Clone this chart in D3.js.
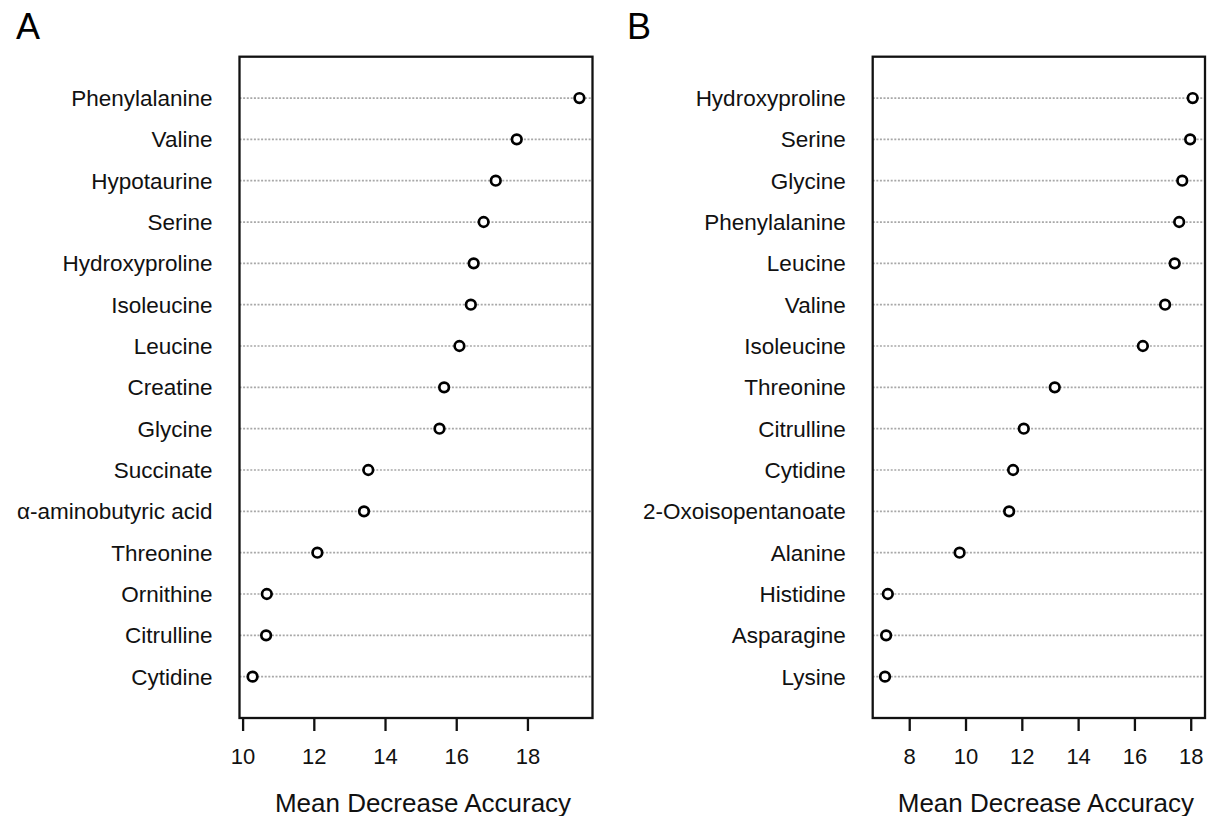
<!DOCTYPE html>
<html>
<head>
<meta charset="utf-8">
<script src="https://cdn.jsdelivr.net/npm/d3@7"></script>
<style>
  body { margin: 0; background: #fff; }
  svg { font-family: "Liberation Sans", Arial, sans-serif; }
</style>
</head>
<body>
<svg width="1207" height="816"></svg>
<script>
// Panel A data (top to bottom)
var namesA = ["Phenylalanine", "Valine", "Hypotaurine", "Serine", "Hydroxyproline",
  "Isoleucine", "Leucine", "Creatine", "Glycine", "Succinate",
  "α-aminobutyric acid", "Threonine", "Ornithine", "Citrulline", "Cytidine"];
var valuesA = [19.46, 17.70, 17.11, 16.77, 16.49, 16.41, 16.09, 15.66, 15.53, 13.53,
  13.41, 12.10, 10.68, 10.66, 10.28];
var ticksA = [10, 12, 14, 16, 18];

// Panel B data (top to bottom)
var namesB = ["Hydroxyproline", "Serine", "Glycine", "Phenylalanine", "Leucine",
  "Valine", "Isoleucine", "Threonine", "Citrulline", "Cytidine",
  "2-Oxoisopentanoate", "Alanine", "Histidine", "Asparagine", "Lysine"];
var valuesB = [18.07, 17.98, 17.70, 17.59, 17.43, 17.09, 16.30, 13.17, 12.07, 11.69,
  11.55, 9.79, 7.24, 7.18, 7.14];
var ticksB = [8, 10, 12, 14, 16, 18];

var axisTitle = "Mean Decrease Accuracy";

var svg = d3.select("svg");
var plotTop = 56.7, plotBottom = 718;

function drawPanel(letter, letterX, names, values, ticks, left, right) {
  var n = names.length;

  // R-style 4% padding around the data range
  var ext = d3.extent(values);
  var pad = (ext[1] - ext[0]) * 0.04;
  var xScale = d3.scaleLinear()
                 .domain([ext[0] - pad, ext[1] + pad])
                 .range([left, right]);

  var yScale = d3.scaleLinear()
                 .domain([0, n + 1])
                 .range([plotBottom, plotTop]);

  var g = svg.append("g");

  // dotted guide lines
  g.selectAll("line.guide")
    .data(names)
    .enter()
    .append("line")
      .attr("class", "guide")
      .attr("x1", left)
      .attr("x2", right)
      .attr("y1", (d, i) => yScale(n - i))
      .attr("y2", (d, i) => yScale(n - i))
      .attr("stroke", "#a8a8a8")
      .attr("stroke-width", 1.7)
      .attr("stroke-dasharray", "2,1.6");

  // row labels
  g.selectAll("text.name")
    .data(names)
    .enter()
    .append("text")
      .attr("class", "name")
      .attr("x", left - 27)
      .attr("y", (d, i) => yScale(n - i))
      .attr("dy", "0.36em")
      .style("text-anchor", "end")
      .style("font-size", "22.5px")
      .attr("fill", "#111")
      .text(d => d);

  // points
  g.selectAll("circle")
    .data(values)
    .enter()
    .append("circle")
      .attr("cx", d => xScale(d))
      .attr("cy", (d, i) => yScale(n - i))
      .attr("r", 4.8)
      .attr("fill", "#fff")
      .attr("stroke", "#000")
      .attr("stroke-width", 2.7);

  // box
  g.append("rect")
    .attr("x", left)
    .attr("y", plotTop)
    .attr("width", right - left)
    .attr("height", plotBottom - plotTop)
    .attr("fill", "none")
    .attr("stroke", "#111")
    .attr("stroke-width", 2.3);

  // x axis
  var xAxis = d3.axisBottom(xScale)
                .tickValues(ticks)
                .tickSize(13)
                .tickPadding(17)
                .tickSizeOuter(0);

  var ax = g.append("g")
    .attr("transform", "translate(0," + plotBottom + ")")
    .call(xAxis);
  ax.select(".domain").remove();
  ax.selectAll(".tick line").attr("stroke", "#111").attr("stroke-width", 2.3);
  ax.selectAll(".tick text")
    .style("font-size", "22px")
    .style("font-family", "\"Liberation Sans\", Arial, sans-serif")
    .attr("fill", "#111");

  // axis title
  g.append("text")
    .attr("x", (left + right) / 2 + 7)
    .attr("y", 811.5)
    .style("text-anchor", "middle")
    .style("font-size", "26px")
    .attr("fill", "#111")
    .text(axisTitle);

  // panel letter
  g.append("text")
    .attr("x", letterX)
    .attr("y", 39)
    .style("font-size", "36px")
    .attr("fill", "#000")
    .text(letter);
}

drawPanel("A", 16, namesA, valuesA, ticksA, 239.5, 592.5);
drawPanel("B", 627, namesB, valuesB, ticksB, 872.7, 1205);
</script>
</body>
</html>
